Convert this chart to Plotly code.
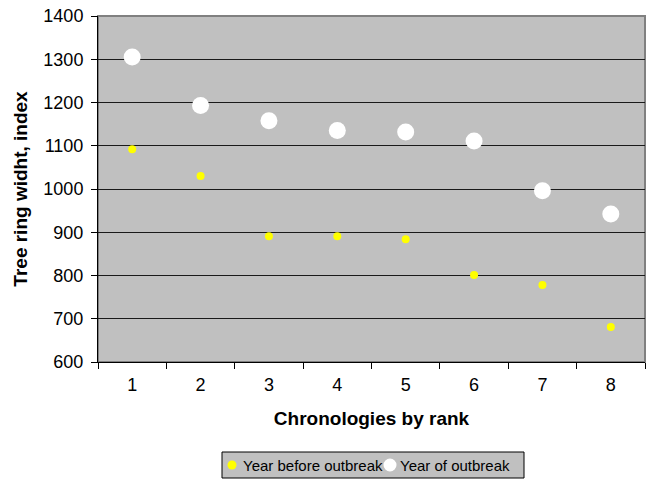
import plotly.graph_objects as go

ranks = ["1", "2", "3", "4", "5", "6", "7", "8"]
year_before = [1092, 1030, 891, 891, 884, 801, 778, 681]
year_of = [1305, 1193, 1158, 1135, 1132, 1111, 996, 942]
series_names = ["Year before outbreak", "Year of outbreak"]
series_colors = ["#FFFF00", "#FFFFFF"]

font_family = "Liberation Sans, Arial, sans-serif"
W, H = 648, 484
M = dict(l=98, r=3, t=16, b=122)
plot_w = W - M["l"] - M["r"]
plot_h = H - M["t"] - M["b"]


def px_x(px):
    return (px - M["l"]) / plot_w


def px_y(py):
    return (H - M["b"] - py) / plot_h


fig = go.Figure()
fig.add_trace(go.Scatter(
    x=ranks, y=year_before, mode="markers", name=series_names[0],
    marker=dict(color=series_colors[0], size=8, line=dict(width=0)),
))
fig.add_trace(go.Scatter(
    x=ranks, y=year_of, mode="markers", name=series_names[1],
    marker=dict(color=series_colors[1], size=17, line=dict(width=0)),
))

# Boxed legend below the axis title
legend_box = (222, 452, 524, 478)
legend_items = [(232, 9, 242), (390, 13, 399)]  # symbol centre, symbol size, text start
shapes = [
    dict(type="rect", xref="paper", yref="paper", x0=0, x1=1, y0=0, y1=1,
         line=dict(color="#808080", width=2), layer="below"),
    dict(type="rect", xref="paper", yref="paper",
         x0=px_x(legend_box[0]), x1=px_x(legend_box[2]),
         y0=px_y(legend_box[3]), y1=px_y(legend_box[1]),
         line=dict(color="black", width=1), fillcolor="#C0C0C0", layer="above"),
]
annotations = []
cy = (legend_box[1] + legend_box[3]) / 2
for (cx, size, tx), name, color in zip(legend_items, series_names, series_colors):
    shapes.append(dict(
        type="circle", xref="paper", yref="paper", xsizemode="pixel", ysizemode="pixel",
        xanchor=px_x(cx), yanchor=px_y(cy),
        x0=-size / 2, x1=size / 2, y0=-size / 2, y1=size / 2,
        fillcolor=color, line=dict(width=0), layer="above",
    ))
    annotations.append(dict(
        text=name, xref="paper", yref="paper", x=px_x(tx), y=px_y(cy),
        xanchor="left", yanchor="middle", showarrow=False,
        font=dict(size=15, color="black"), xshift=-1,
    ))

fig.update_layout(
    width=W, height=H,
    margin=M,
    paper_bgcolor="white",
    plot_bgcolor="#C0C0C0",
    font=dict(family=font_family, color="black", size=15),
    showlegend=False,
    xaxis=dict(
        type="category", showgrid=False, showline=True, linecolor="black",
        linewidth=1, ticks="outside", tickson="boundaries", ticklen=6,
        tickcolor="black", tickfont=dict(size=18), ticklabelstandoff=6,
        title=dict(text="<b>Chronologies by rank</b>", font=dict(size=19), standoff=18),
        range=[-0.5, 7.5], automargin=False,
    ),
    yaxis=dict(
        range=[600, 1400], dtick=100, showgrid=True, gridcolor="#1a1a1a",
        gridwidth=1, showline=True, linecolor="black", linewidth=1,
        ticks="outside", ticklen=6, tickcolor="black", tickfont=dict(size=18),
        ticklabelstandoff=4,
        title=dict(text="<b>Tree ring widht, index</b>", font=dict(size=19), standoff=10),
        zeroline=False, automargin=False,
    ),
    shapes=shapes,
    annotations=annotations,
)

fig.write_html("out.html")
